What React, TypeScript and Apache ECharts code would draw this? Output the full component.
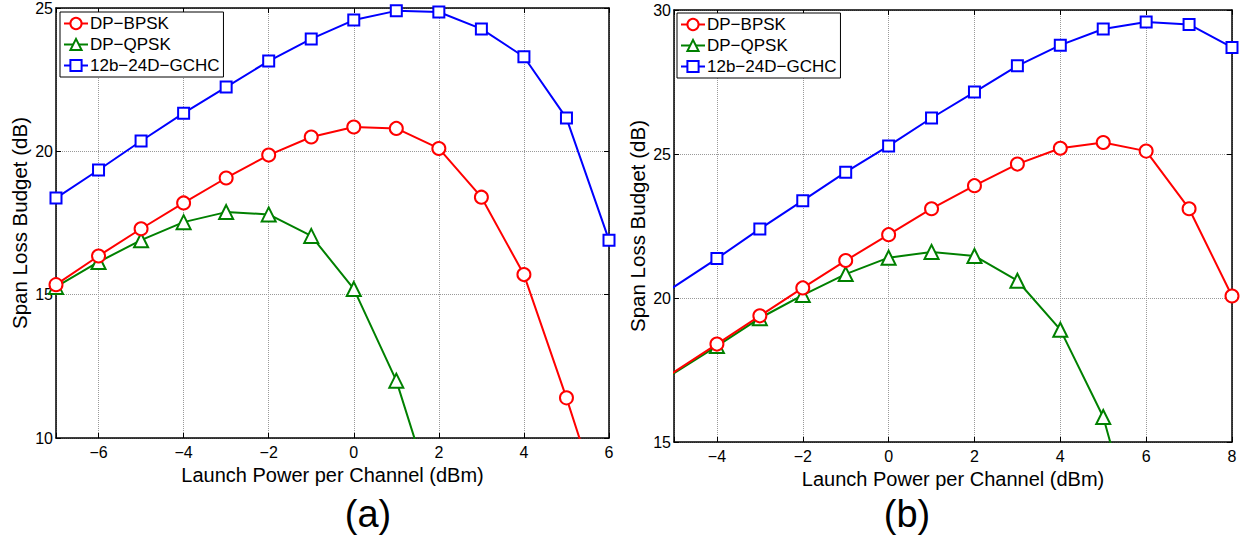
import React, { useEffect, useRef } from 'react';
import * as echarts from 'echarts';

// ---- Panel (a) data ----
const xA = [-7, -6, -5, -4, -3, -2, -1, 0, 1, 2, 3, 4, 5, 6];
const bpskA = [15.35, 16.35, 17.3, 18.2, 19.07, 19.87, 20.5, 20.85, 20.8, 20.1, 18.4, 15.7, 11.4, 6.8];
const qpskA = [15.27, 16.14, 16.9, 17.53, 17.88, 17.8, 17.05, 15.2, 12.0, 7.3];
const gchcA = [18.37, 19.35, 20.36, 21.33, 22.24, 23.15, 23.92, 24.58, 24.9, 24.86, 24.27, 23.3, 21.16, 16.9];

// ---- Panel (b) data ----
const xB = [-6, -4, -3, -2, -1, 0, 1, 2, 3, 4, 5, 6, 7, 8];
const bpskB = [16.45, 18.4, 19.38, 20.35, 21.3, 22.2, 23.1, 23.9, 24.65, 25.2, 25.4, 25.1, 23.1, 20.07];
const qpskB = [16.45, 18.33, 19.3, 20.1, 20.83, 21.4, 21.6, 21.46, 20.6, 18.9, 15.87, 10.5];
const gchcB = [19.4, 21.37, 22.4, 23.38, 24.37, 25.28, 26.25, 27.15, 28.06, 28.78, 29.34, 29.58, 29.5, 28.7];

const names = ['DP-BPSK', 'DP-QPSK', '12b-24D-GCHC'];
const colors = ['#ff0000', '#008000', '#0000ff'];
const symbols = ['circle', 'triangle', 'rect'];
const symbolSizes = [13, 14, 11];

const FONT = 'Liberation Sans, Arial, Helvetica, sans-serif';

const pairs = (xs: number[], ys: number[]) => ys.map((y, i) => [xs[i], y]);
const fmt = (v: number) => (Math.abs(v % 2) === 1 ? '' : String(v).replace('-', '\u2212'));

export default function App() {
  const ref = useRef<HTMLDivElement>(null);
  useEffect(() => {
    if (!ref.current) return;
    const chart = echarts.init(ref.current, undefined, { renderer: 'svg' });

    const grids = [
      { left: 56, top: 8, width: 553, height: 430 },
      { left: 674, top: 10, width: 558, height: 432 },
    ];
    const xr = [
      [-7, 6],
      [-5, 8],
    ];
    const yr = [
      [10, 25],
      [15, 30],
    ];

    const xAxes: any[] = [];
    const yAxes: any[] = [];
    [0, 1].forEach((g) => {
      const baseX = {
        type: 'value',
        gridIndex: g,
        min: xr[g][0],
        max: xr[g][1],
        minInterval: 2,
        maxInterval: 2,
        splitNumber: 6,
      };
      xAxes.push({
        ...baseX,
        position: 'bottom',
        name: 'Launch Power per Channel (dBm)',
        nameLocation: 'middle',
        nameGap: 19,
        nameTextStyle: { fontFamily: FONT, fontSize: 20, color: '#000' },
        axisLine: { show: true, onZero: false, lineStyle: { color: '#000', width: 1.5 } },
        axisTick: { show: true, inside: true, length: 5, lineStyle: { color: '#000' } },
        axisLabel: { fontFamily: FONT, fontSize: 16, color: '#000', margin: 6, formatter: fmt },
        splitLine: { show: true, lineStyle: { type: 'dotted', color: '#999', width: 1 } },
      });
      xAxes.push({
        ...baseX,
        position: 'top',
        axisLine: { show: true, onZero: false, lineStyle: { color: '#000', width: 1.5 } },
        axisTick: { show: true, inside: true, length: 5, lineStyle: { color: '#000' } },
        axisLabel: { show: false },
        splitLine: { show: false },
      });
      const baseY = {
        type: 'value',
        gridIndex: g,
        min: yr[g][0],
        max: yr[g][1],
        interval: 5,
      };
      yAxes.push({
        ...baseY,
        position: 'left',
        name: 'Span Loss Budget (dB)',
        nameLocation: 'middle',
        nameGap: 26,
        nameTextStyle: { fontFamily: FONT, fontSize: 20.5, color: '#000' },
        axisLine: { show: true, onZero: false, lineStyle: { color: '#000', width: 1.5 } },
        axisTick: { show: true, inside: true, length: 5, lineStyle: { color: '#000' } },
        axisLabel: { fontFamily: FONT, fontSize: 16, color: '#000', margin: 3 },
        splitLine: { show: true, lineStyle: { type: 'dotted', color: '#999', width: 1 } },
      });
      yAxes.push({
        ...baseY,
        position: 'right',
        axisLine: { show: true, onZero: false, lineStyle: { color: '#000', width: 1.5 } },
        axisTick: { show: true, inside: true, length: 5, lineStyle: { color: '#000' } },
        axisLabel: { show: false },
        splitLine: { show: false },
      });
    });

    const dataSets = [
      [pairs(xA, bpskA), pairs(xA, qpskA), pairs(xA, gchcA)],
      [pairs(xB, bpskB), pairs(xB, qpskB), pairs(xB, gchcB)],
    ];

    const series: any[] = [];
    [0, 1].forEach((g) => {
      [0, 1, 2].forEach((s) => {
        series.push({
          type: 'line',
          name: names[s],
          xAxisIndex: g * 2,
          yAxisIndex: g * 2,
          data: dataSets[g][s],
          clip: true,
          color: colors[s],
          symbol: symbols[s],
          symbolSize: symbolSizes[s],
          showAllSymbol: true,
          lineStyle: { color: colors[s], width: 2 },
          itemStyle: { color: '#fff', borderColor: colors[s], borderWidth: 2 },
          emphasis: { disabled: true },
          z: 3 - s,
        });
      });
    });

    const legendBase = {
      orient: 'vertical',
      data: names,
      itemGap: 4,
      itemWidth: 24,
      itemHeight: 14,
      padding: [3, 4, 3, 3],
      borderColor: '#000',
      borderWidth: 1,
      backgroundColor: '#fff',
      formatter: (n: string) => n.replace(/-/g, '\u2212'),
      textStyle: { fontFamily: FONT, fontSize: 17, color: '#000', padding: [0, 0, 0, -3] },
    };

    chart.setOption({
      animation: false,
      backgroundColor: '#fff',
      grid: grids.map((g) => ({ ...g, show: false })),
      xAxis: xAxes,
      yAxis: yAxes,
      series,
      legend: [
        { ...legendBase, left: 60, top: 12 },
        { ...legendBase, left: 677, top: 13 },
      ],
      graphic: [
        {
          type: 'text',
          x: 368,
          y: 514,
          style: { text: '(a)', fontFamily: FONT, fontSize: 38, fill: '#000', textAlign: 'center', textVerticalAlign: 'middle' },
        },
        {
          type: 'text',
          x: 907,
          y: 514,
          style: { text: '(b)', fontFamily: FONT, fontSize: 38, fill: '#000', textAlign: 'center', textVerticalAlign: 'middle' },
        },
      ],
    });
    return () => chart.dispose();
  }, []);

  return <div ref={ref} style={{ position: 'absolute', left: 0, top: 0, width: 1245, height: 537 }} />;
}
